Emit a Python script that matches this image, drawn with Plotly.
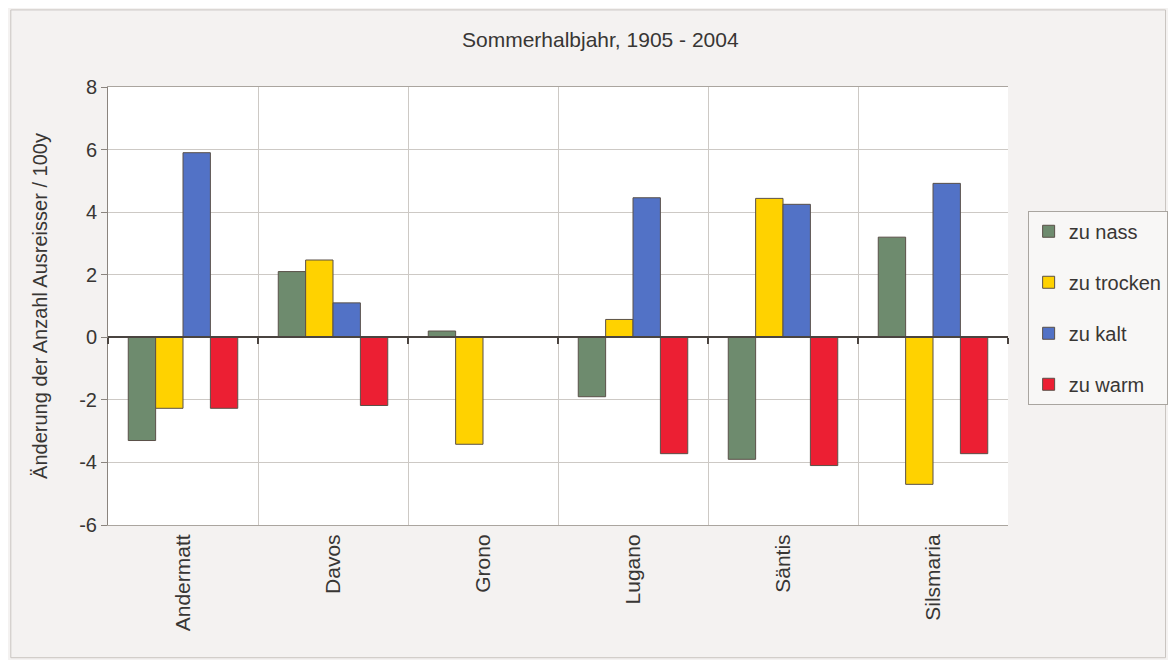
"""
Ausreisser-Änderungen im Sommerhalbjahr, 1905 - 2004.
Gruppiertes Säulendiagramm pro Station.
"""
import plotly.graph_objs as go

stations = ["Andermatt", "Davos", "Grono", "Lugano", "Säntis", "Silsmaria"]

# Änderung der Anzahl Ausreisser pro 100 Jahre
zu_nass = [-3.3, 2.1, 0.2, -1.9, -3.9, 3.2]
zu_trocken = [-2.27, 2.47, -3.42, 0.57, 4.44, -4.7]
zu_kalt = [5.9, 1.1, None, 4.46, 4.25, 4.92]
zu_warm = [-2.27, -2.18, None, -3.72, -4.1, -3.72]

series_names = ["zu nass", "zu trocken", "zu kalt", "zu warm"]
y_ticks = [-6, -4, -2, 0, 2, 4, 6, 8]
y_ticktext = ["-6", "-4", "-2", "0", "2", "4", "6", "8"]

FONT = "Liberation Sans, Arial, sans-serif"
TEXT = "#383634"
GRID = "#cdc9c5"

colors = ["#6e8b6e", "#ffd200", "#5272c6", "#ec1f33"]

fig = go.Figure()
for name, values, color in zip(series_names, [zu_nass, zu_trocken, zu_kalt, zu_warm], colors):
    fig.add_trace(go.Bar(
        x=stations,
        y=values,
        name=name,
        legendgroup=name,
        marker=dict(color=color, line=dict(color="#5a5048", width=1))
    ))

# Hilfsspur für die Achse auf der Nulllinie (mit Teilstrichen an den Kategoriengrenzen)
fig.add_trace(go.Scatter(
    x=stations,
    y=[0] * len(stations),
    xaxis="x2",
    mode="none",
    showlegend=False,
    hoverinfo="skip"
))

# die Seite hat 8px Rand, daher etwas kleiner als das Fenster
fig.update_layout(
    width=1160,
    height=652,
    margin=dict(l=100, r=160, t=79, b=135, autoexpand=False),
    title=dict(
        text="Sommerhalbjahr, 1905 - 2004",
        x=0.547, xref="paper", xanchor="center",
        y=0.951, yref="container", yanchor="middle",
        font=dict(family=FONT, size=21, color=TEXT)
    ),
    barmode="group",
    bargap=0.27,
    bargroupgap=0,
    plot_bgcolor="white",
    paper_bgcolor="#f4f2f1",
    font=dict(family=FONT, size=20, color=TEXT),
    xaxis=dict(
        type="category",
        tickangle=-90,
        tickson="boundaries",
        showgrid=True,
        gridcolor=GRID,
        gridwidth=1,
        ticks="",
        showline=True,
        linecolor="#aaa59f",
        mirror=True,
        tickfont=dict(family=FONT, size=21, color=TEXT)
    ),
    xaxis2=dict(
        type="category",
        matches="x",
        overlaying="x",
        anchor="free",
        position=6 / 14,
        showline=True,
        linecolor="#4a4440",
        linewidth=2,
        ticks="outside",
        tickson="boundaries",
        ticklen=6,
        tickwidth=2,
        tickcolor="#4a4440",
        showticklabels=False,
        showgrid=False
    ),
    yaxis=dict(
        title=dict(text="Änderung der Anzahl Ausreisser / 100y",
                   font=dict(family=FONT, size=20, color=TEXT), standoff=26),
        range=[-6, 8],
        tickvals=y_ticks,
        ticktext=y_ticktext,
        showgrid=True,
        gridcolor=GRID,
        zeroline=False,
        showline=True,
        linecolor="#8a847e",
        ticks="outside",
        ticklen=6,
        tickcolor="#8a847e",
        tickfont=dict(family=FONT, size=20, color=TEXT)
    ),
    legend=dict(
        xref="container", x=0.879, xanchor="left",
        yref="container", y=0.689, yanchor="top",
        bgcolor="#f8f7f6",
        bordercolor="#a9a5a0",
        borderwidth=1,
        tracegroupgap=22,
        traceorder="grouped",
        font=dict(family=FONT, size=20, color=TEXT)
    ),
    shapes=[dict(
        type="rect", xref="paper", yref="paper",
        x0=-0.108, x1=1.175, y0=-0.303, y1=1.176,
        line=dict(color="#c9c5c1", width=1),
        fillcolor="rgba(0,0,0,0)", layer="below"
    )]
)

fig.write_html("out.html")
